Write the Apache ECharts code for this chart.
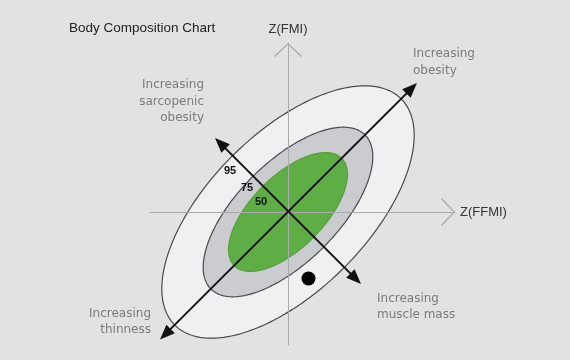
<!DOCTYPE html>
<html><head><meta charset="utf-8">
<script src="https://cdn.jsdelivr.net/npm/echarts@6/dist/echarts.min.js"></script>
<style>html,body{margin:0;padding:0;background:#e1e2e4;}#c{width:570px;height:360px;}</style>
</head><body><div id="c"></div>
<script>
// ---- data (Z-score units) ----
const percentiles = ['95', '75', '50'];
const ellipseCenter = [0, 0];
const semiMajor = [3.2, 2.18, 1.52];   // along the +45° diagonal
const semiMinor = [1.58, 1.0, 0.72];   // perpendicular
const arrowStart = [[-2.56, -2.55], [-1.46, 1.48]];
const arrowEnd = [[2.58, 2.58], [1.46, -1.44]];
const subjectPoint = [[0.41, -1.33]];
const axisNames = ['Z(FFMI)', 'Z(FMI)'];
const title = 'Body Composition Chart';
const directionLabels = ['Increasing\nobesity', 'Increasing\nsarcopenic\nobesity', 'Increasing\nthinness', 'Increasing\nmuscle mass'];

// ---- styles ----
const ellipseFill = ['#eff0f2', '#cbccd0', '#5fad45'];
const ellipseStroke = ['#4a4a4a', '#4a4a4a', '#5a9e42'];
const FONT = '"DejaVu Sans", Verdana, sans-serif';
const ARIAL = '"Liberation Sans", Arial, sans-serif';
const chevron = 'path://M0,13 L14,0 L28,13 L27,14 L14,1.6 L1,14 Z';

const chart = echarts.init(document.getElementById('c'), null, {renderer: 'canvas'});

function axisCfg(min, max) {
  return {
    type: 'value', min: min, max: max, z: 5,
    axisLine: {onZero: true, lineStyle: {color: '#a9aaac', width: 1},
      symbol: ['none', chevron], symbolSize: [28, 14], symbolOffset: [0, -7]},
    axisTick: {show: false}, axisLabel: {show: false}, splitLine: {show: false}
  };
}

const option = {
  backgroundColor: '#e1e2e4',
  animation: false,
  grid: {left: 150, right: 115, top: 43, bottom: 15},
  xAxis: axisCfg(-2.76, 3.34),
  yAxis: axisCfg(-2.66, 3.38),
  series: [
    {
      type: 'custom', z: 1,
      data: percentiles.map((p, i) => ({name: p, value: [ellipseCenter[0], ellipseCenter[1], semiMajor[i], semiMinor[i]]})),
      renderItem: function (params, api) {
        const i = params.dataIndex;
        const cx = api.value(0), cy = api.value(1), a = api.value(2), b = api.value(3);
        const c = Math.SQRT1_2, pts = [];
        for (let k = 0; k < 240; k++) {
          const t = k / 240 * 2 * Math.PI;
          const u = a * Math.cos(t), v = b * Math.sin(t);
          pts.push(api.coord([cx + c * (u - v), cy + c * (u + v)]));
        }
        return {type: 'polygon', shape: {points: pts},
          style: {fill: ellipseFill[i], stroke: ellipseStroke[i], lineWidth: 1.2}};
      }
    },
    {
      type: 'custom', z: 10,
      data: arrowStart.map((s, i) => [s[0], s[1], arrowEnd[i][0], arrowEnd[i][1]]),
      renderItem: function (params, api) {
        const p1 = api.coord([api.value(0), api.value(1)]);
        const p2 = api.coord([api.value(2), api.value(3)]);
        const dx = p2[0] - p1[0], dy = p2[1] - p1[1];
        const len = Math.sqrt(dx * dx + dy * dy);
        const ux = dx / len, uy = dy / len, nx = -uy, ny = ux;
        const L = 15, W = 6;
        function head(tip, sx, sy) {
          const bx = tip[0] - sx * L, by = tip[1] - sy * L;
          return {type: 'polygon', shape: {points: [tip, [bx + nx * W, by + ny * W], [bx - nx * W, by - ny * W]]},
            style: {fill: '#111'}};
        }
        return {type: 'group', children: [
          {type: 'line', shape: {x1: p1[0] + ux * 8, y1: p1[1] + uy * 8, x2: p2[0] - ux * 8, y2: p2[1] - uy * 8},
            style: {stroke: '#111', lineWidth: 2}},
          head(p2, ux, uy), head(p1, -ux, -uy)
        ]};
      }
    },
    {
      type: 'scatter', z: 11, data: subjectPoint, symbol: 'circle', symbolSize: 14,
      itemStyle: {color: '#000', opacity: 1}
    }
  ],
  graphic: [
    {type: 'text', x: 69, y: 28.5, z: 20, style: {text: title, font: '13.5px ' + ARIAL, fill: '#222', align: 'left', verticalAlign: 'middle'}},
    {type: 'text', x: 288, y: 29, z: 20, style: {text: axisNames[1], font: '13px ' + ARIAL, fill: '#333', align: 'center', verticalAlign: 'middle'}},
    {type: 'text', x: 460, y: 212.5, z: 20, style: {text: axisNames[0], font: '13px ' + ARIAL, fill: '#333', align: 'left', verticalAlign: 'middle'}},
    {type: 'text', x: 413, y: 62.5, z: 20, style: {text: directionLabels[0], font: '12px ' + FONT, lineHeight: 16.5, fill: '#7b7b7b', align: 'left', verticalAlign: 'middle'}},
    {type: 'text', x: 204, y: 101.5, z: 20, style: {text: directionLabels[1], font: '12px ' + FONT, lineHeight: 16.5, fill: '#7b7b7b', align: 'right', verticalAlign: 'middle'}},
    {type: 'text', x: 151, y: 322, z: 20, style: {text: directionLabels[2], font: '12px ' + FONT, lineHeight: 16.5, fill: '#7b7b7b', align: 'right', verticalAlign: 'middle'}},
    {type: 'text', x: 377, y: 307, z: 20, style: {text: directionLabels[3], font: '12px ' + FONT, lineHeight: 16.5, fill: '#7b7b7b', align: 'left', verticalAlign: 'middle'}},
    {type: 'text', x: 230, y: 171, z: 20, style: {text: percentiles[0], font: 'bold 11px ' + ARIAL, fill: '#111', align: 'center', verticalAlign: 'middle'}},
    {type: 'text', x: 247, y: 188, z: 20, style: {text: percentiles[1], font: 'bold 11px ' + ARIAL, fill: '#111', align: 'center', verticalAlign: 'middle'}},
    {type: 'text', x: 261, y: 202, z: 20, style: {text: percentiles[2], font: 'bold 11px ' + ARIAL, fill: '#111', align: 'center', verticalAlign: 'middle'}}
  ]
};
chart.setOption(option);
</script>
</body></html>
